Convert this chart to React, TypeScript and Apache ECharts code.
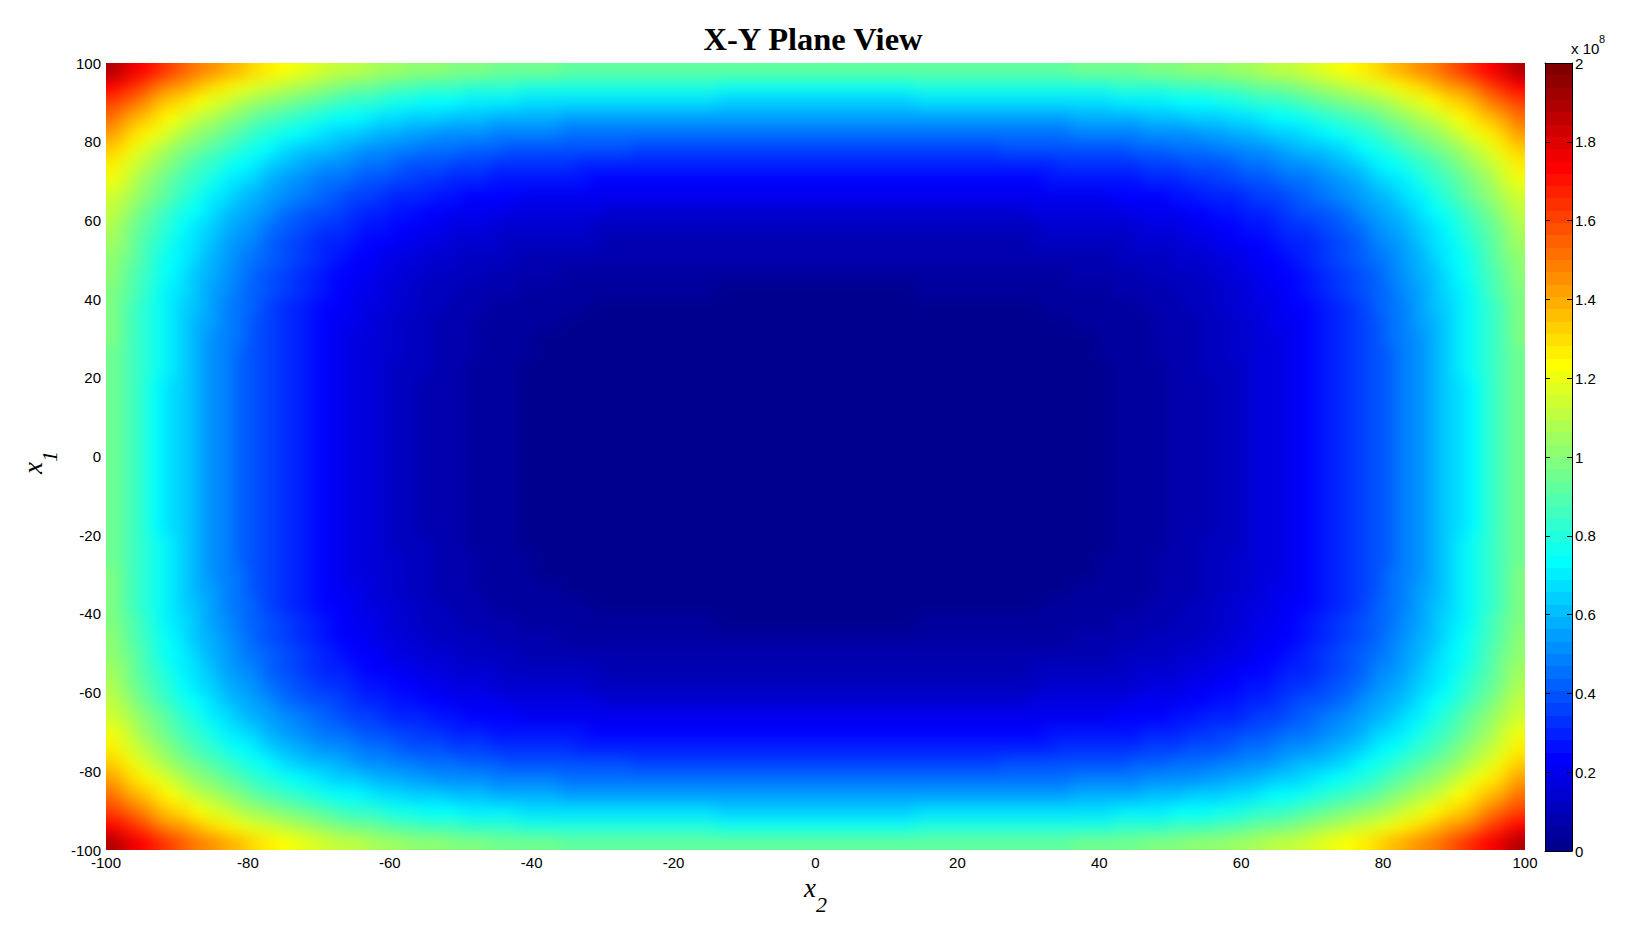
import React, { useEffect, useRef } from "react";
import * as echarts from "echarts";

// Columns: x2 = 1, 3, ... 99. Rows: x1 = 2, 6, ... 98. The picture mirrors this on both axes.
const x2Centres = [1,3,5,7,9,11,13,15,17,19,21,23,25,27,29,31,33,35,37,39,41,43,45,47,49,51,53,55,57,59,61,63,65,67,69,71,73,75,77,79,81,83,85,87,89,91,93,95,97,99];
const x1Centres = [2,6,10,14,18,22,26,30,34,38,42,46,50,54,58,62,66,70,74,78,82,86,90,94,98];
const quadrant = [
[0,0,0,0,0,0,0,1,1,1,2,3,4,5,7,9,12,15,19,23,28,34,41,49,58,68,79,92,106,121,139,158,179,202,227,254,284,316,352,390,431,475,522,573,627,686,748,815,885,961],
[0,0,0,0,0,0,0,1,1,1,2,3,4,5,7,9,12,15,19,23,28,34,41,49,58,68,79,92,106,121,139,158,179,202,227,254,284,316,352,390,431,475,522,573,627,686,748,815,885,961],
[0,0,0,0,0,0,0,1,1,1,2,3,4,5,7,9,12,15,19,23,28,34,41,49,58,68,79,92,106,121,139,158,179,202,227,254,284,316,352,390,431,475,522,573,627,686,748,815,885,961],
[0,0,0,0,0,0,0,1,1,1,2,3,4,5,7,9,12,15,19,23,28,34,41,49,58,68,79,92,106,121,139,158,179,202,227,254,284,316,352,390,431,475,522,573,627,686,748,815,885,961],
[1,1,1,1,1,1,1,2,2,2,3,4,5,6,8,10,13,16,20,24,29,35,42,50,59,69,80,93,107,122,140,159,180,203,228,255,285,317,353,391,432,476,523,574,628,687,749,816,886,962],
[2,2,2,2,2,2,2,3,3,3,4,5,6,7,9,11,14,17,21,25,30,36,43,51,60,70,81,94,108,123,141,160,181,204,229,256,286,318,354,392,433,477,524,575,629,688,750,817,887,963],
[5,5,5,5,5,5,5,6,6,6,7,8,9,10,12,14,17,20,24,28,33,39,46,54,63,73,84,97,111,126,144,163,184,207,232,259,289,321,357,395,436,480,527,578,632,691,753,820,890,966],
[8,8,8,8,8,8,8,9,9,9,10,11,12,13,15,17,20,23,27,31,36,42,49,57,66,76,87,100,114,129,147,166,187,210,235,262,292,324,360,398,439,483,530,581,635,694,756,823,893,969],
[13,13,13,13,13,13,13,14,14,14,15,16,17,18,20,22,25,28,32,36,41,47,54,62,71,81,92,105,119,134,152,171,192,215,240,267,297,329,365,403,444,488,535,586,640,699,761,828,898,974],
[21,21,21,21,21,21,21,22,22,22,23,24,25,26,28,30,33,36,40,44,49,55,62,70,79,89,100,113,127,142,160,179,200,223,248,275,305,337,373,411,452,496,543,594,648,707,769,836,906,982],
[31,31,31,31,31,31,31,32,32,32,33,34,35,36,38,40,43,46,50,54,59,65,72,80,89,99,110,123,137,152,170,189,210,233,258,285,315,347,383,421,462,506,553,604,658,717,779,846,916,992],
[45,45,45,45,45,45,45,46,46,46,47,48,49,50,52,54,57,60,64,68,73,79,86,94,103,113,124,137,151,166,184,203,224,247,272,299,329,361,397,435,476,520,567,618,672,731,793,860,930,1006],
[63,63,63,63,63,63,63,64,64,64,65,66,67,68,70,72,75,78,82,86,91,97,104,112,121,131,142,155,169,184,202,221,242,265,290,317,347,379,415,453,494,538,585,636,690,749,811,878,948,1024],
[85,85,85,85,85,85,85,86,86,86,87,88,89,90,92,94,97,100,104,108,113,119,126,134,143,153,164,177,191,206,224,243,264,287,312,339,369,401,437,475,516,560,607,658,712,771,833,900,970,1046],
[113,113,113,113,113,113,113,114,114,114,115,116,117,118,120,122,125,128,132,136,141,147,154,162,171,181,192,205,219,234,252,271,292,315,340,367,397,429,465,503,544,588,635,686,740,799,861,928,998,1074],
[148,148,148,148,148,148,148,149,149,149,150,151,152,153,155,157,160,163,167,171,176,182,189,197,206,216,227,240,254,269,287,306,327,350,375,402,432,464,500,538,579,623,670,721,775,834,896,963,1033,1109],
[190,190,190,190,190,190,190,191,191,191,192,193,194,195,197,199,202,205,209,213,218,224,231,239,248,258,269,282,296,311,329,348,369,392,417,444,474,506,542,580,621,665,712,763,817,876,938,1005,1075,1151],
[240,240,240,240,240,240,240,241,241,241,242,243,244,245,247,249,252,255,259,263,268,274,281,289,298,308,319,332,346,361,379,398,419,442,467,494,524,556,592,630,671,715,762,813,867,926,988,1055,1125,1201],
[300,300,300,300,300,300,300,301,301,301,302,303,304,305,307,309,312,315,319,323,328,334,341,349,358,368,379,392,406,421,439,458,479,502,527,554,584,616,652,690,731,775,822,873,927,986,1048,1115,1185,1261],
[370,370,370,370,370,370,370,371,371,371,372,373,374,375,377,379,382,385,389,393,398,404,411,419,428,438,449,462,476,491,509,528,549,572,597,624,654,686,722,760,801,845,892,943,997,1056,1118,1185,1255,1331],
[452,452,452,452,452,452,452,453,453,453,454,455,456,457,459,461,464,467,471,475,480,486,493,501,510,520,531,544,558,573,591,610,631,654,679,706,736,768,804,842,883,927,974,1025,1079,1138,1200,1267,1337,1413],
[547,547,547,547,547,547,547,548,548,548,549,550,551,552,554,556,559,562,566,570,575,581,588,596,605,615,626,639,653,668,686,705,726,749,774,801,831,863,899,937,978,1022,1069,1120,1174,1233,1295,1362,1432,1508],
[656,656,656,656,656,656,656,657,657,657,658,659,660,661,663,665,668,671,675,679,684,690,697,705,714,724,735,748,762,777,795,814,835,858,883,910,940,972,1008,1046,1087,1131,1178,1229,1283,1342,1404,1471,1541,1617],
[781,781,781,781,781,781,781,782,782,782,783,784,785,786,788,790,793,796,800,804,809,815,822,830,839,849,860,873,887,902,920,939,960,983,1008,1035,1065,1097,1133,1171,1212,1256,1303,1354,1408,1467,1529,1596,1666,1742],
[922,922,922,922,922,922,922,923,923,923,924,925,926,927,929,931,934,937,941,945,950,956,963,971,980,990,1001,1014,1028,1043,1061,1080,1101,1124,1149,1176,1206,1238,1274,1312,1353,1397,1444,1495,1549,1608,1670,1737,1807,1883],
];
const cellWidth = 2;
const cellHeight = 4;
const outerX2 = 99;
const outerX1 = 98;

const colourBarMax = 2; // in units of 1e8
const bandCount = 64;

const clamp = (v: number) => Math.max(0, Math.min(1, v));
// The 64-step jet colour map.
const jetColours = Array.from({ length: bandCount }, (_, i) => {
  const t = (i + 1) / bandCount;
  const r = clamp(Math.min(4 * t - 1.5, -4 * t + 4.5));
  const g = clamp(Math.min(4 * t - 0.5, -4 * t + 3.5));
  const b = clamp(Math.min(4 * t + 0.5, -4 * t + 2.5));
  return `rgb(${Math.round(r * 255)},${Math.round(g * 255)},${Math.round(b * 255)})`;
});
const colourFor = (v1e5: number) =>
  jetColours[Math.min(bandCount - 1, Math.floor((v1e5 / 1000 / colourBarMax) * bandCount))];

const surfaceData: number[][] = [];
quadrant.forEach((row, r) => {
  row.forEach((v, c) => {
    for (const sx of [-1, 1]) for (const sy of [-1, 1]) surfaceData.push([sx * x2Centres[c], sy * x1Centres[r], v]);
  });
});
const barData = jetColours.map((_, k) => [k, (k * colourBarMax) / bandCount, ((k + 1) * colourBarMax) / bandCount]);

const labelFont = { fontFamily: "Liberation Sans", fontSize: 15, color: "#000" };
const plotGrid = { left: 106, top: 63, width: 1419, height: 787 };

export default function App() {
  const surfaceRef = useRef<HTMLDivElement>(null);
  const ref = useRef<HTMLDivElement>(null);
  useEffect(() => {
    document.body.style.margin = "0";
    document.body.style.background = "#fff";

    const surface = echarts.init(surfaceRef.current!, undefined, { renderer: "svg" });
    surface.setOption({
      animation: false,
      grid: plotGrid,
      xAxis: { type: "value", min: -100, max: 100, show: false },
      yAxis: { type: "value", min: -100, max: 100, show: false },
      series: [
        {
          type: "custom",
          clip: false,
          silent: true,
          data: surfaceData,
          renderItem: (_: any, api: any) => {
            const x = api.value(0), y = api.value(1);
            const a = api.coord([x - cellWidth / 2, y + cellHeight / 2]);
            const b = api.coord([x + cellWidth / 2, y - cellHeight / 2]);
            // Outer cells run on past the plot edge, so that the softening keeps the edge colour.
            const x0 = Math.round(a[0]) - (x === -outerX2 ? 40 : 0);
            const x1 = Math.round(b[0]) + (x === outerX2 ? 40 : 0);
            const y0 = Math.round(a[1]) - (y === outerX1 ? 40 : 0);
            const y1 = Math.round(b[1]) + (y === -outerX1 ? 40 : 0);
            return {
              type: "rect",
              shape: { x: x0, y: y0, width: x1 - x0, height: y1 - y0 },
              style: { fill: colourFor(api.value(2)) },
            };
          },
        },
      ],
    });

    const chart = echarts.init(ref.current!, undefined, { renderer: "svg" });
    const subStyle = { fontFamily: "Liberation Serif", fontStyle: "italic", fontSize: 22, color: "#000" };
    const varStyle = { fontFamily: "Liberation Serif", fontStyle: "italic", fontSize: 27, color: "#000" };
    chart.setOption({
      animation: false,
      title: {
        text: "X-Y Plane View",
        left: 808,
        top: 17,
        textAlign: "center",
        textStyle: { fontFamily: "Liberation Serif", fontWeight: "bold", fontSize: 32.5, color: "#000" },
      },
      grid: [plotGrid, { left: 1545, top: 63, width: 27, height: 788 }],
      xAxis: [
        {
          gridIndex: 0, type: "value", min: -100, max: 100, interval: 20,
          axisLine: { show: false }, axisTick: { show: false }, splitLine: { show: false },
          axisLabel: { ...labelFont, margin: 5, showMinLabel: true, showMaxLabel: true },
          name: "{v|x}{s|2}", nameLocation: "middle", nameGap: 10,
          nameTextStyle: { rich: { v: varStyle, s: { ...subStyle, padding: [32, 0, 0, 0] } } },
        },
        {
          gridIndex: 1, type: "value", min: 0, max: 1, position: "bottom", z: 10,
          axisLine: { show: true, onZero: false, lineStyle: { color: "#000", width: 1 } },
          axisTick: { show: false }, axisLabel: { show: false }, splitLine: { show: false },
        },
        {
          gridIndex: 1, type: "value", min: 0, max: 1, position: "top", z: 10,
          axisLine: { show: true, onZero: false, lineStyle: { color: "#000", width: 1 } },
          axisTick: { show: false }, axisLabel: { show: false }, splitLine: { show: false },
        },
      ],
      yAxis: [
        {
          gridIndex: 0, type: "value", min: -100, max: 100, interval: 20,
          axisLine: { show: false }, axisTick: { show: false }, splitLine: { show: false },
          axisLabel: { ...labelFont, margin: 5, showMinLabel: true, showMaxLabel: true },
          name: "{v|x}{s|1}", nameLocation: "middle", nameGap: 42, nameRotate: 90,
          nameTextStyle: { rich: { v: varStyle, s: { ...subStyle, padding: [32, 12, 0, 0] } } },
        },
        {
          gridIndex: 1, type: "value", min: 0, max: colourBarMax, interval: 0.2, position: "right", z: 10,
          axisLine: { show: true, onZero: false, lineStyle: { color: "#000", width: 1 } },
          axisTick: { show: true, inside: true, length: 5, lineStyle: { color: "#000" } },
          axisLabel: { ...labelFont, margin: 3, showMinLabel: true, showMaxLabel: true, formatter: (v: number) => String(+v.toFixed(1)) },
          splitLine: { show: false },
        },
        {
          gridIndex: 1, type: "value", min: 0, max: colourBarMax, interval: 0.2, position: "left", z: 10,
          axisLine: { show: true, onZero: false, lineStyle: { color: "#000", width: 1 } },
          axisTick: { show: true, inside: true, length: 5, lineStyle: { color: "#000" } },
          axisLabel: { show: false }, splitLine: { show: false },
        },
      ],
      series: [
        {
          type: "custom",
          xAxisIndex: 1,
          yAxisIndex: 1,
          silent: true,
          data: barData,
          renderItem: (_: any, api: any) => {
            const a = api.coord([0, api.value(2)]);
            const b = api.coord([1, api.value(1)]);
            const y0 = Math.round(a[1]);
            return {
              type: "rect",
              shape: { x: a[0], y: y0, width: b[0] - a[0], height: Math.round(b[1]) - y0 },
              style: { fill: jetColours[api.value(0)] },
            };
          },
        },
      ],
      graphic: [
        { type: "text", x: 1571, y: 42, style: { text: "x 10", fontFamily: "Liberation Sans", fontSize: 15, lineHeight: 13, fill: "#000" } },
        { type: "text", x: 1599, y: 33, style: { text: "8", fontFamily: "Liberation Sans", fontSize: 11, fill: "#000" } },
      ],
    });
    return () => {
      chart.dispose();
      surface.dispose();
    };
  }, []);
  return (
    <div style={{ position: "relative", width: 1632, height: 945, overflow: "hidden", background: "#fff" }}>
      <div style={{ position: "absolute", left: plotGrid.left, top: plotGrid.top, width: plotGrid.width, height: plotGrid.height, overflow: "hidden" }}>
        <div ref={surfaceRef} style={{ position: "absolute", left: -plotGrid.left, top: -plotGrid.top, width: 1632, height: 945, filter: "blur(7px)" }} />
      </div>
      <div ref={ref} style={{ position: "absolute", left: 0, top: 0, width: 1632, height: 945 }} />
    </div>
  );
}
